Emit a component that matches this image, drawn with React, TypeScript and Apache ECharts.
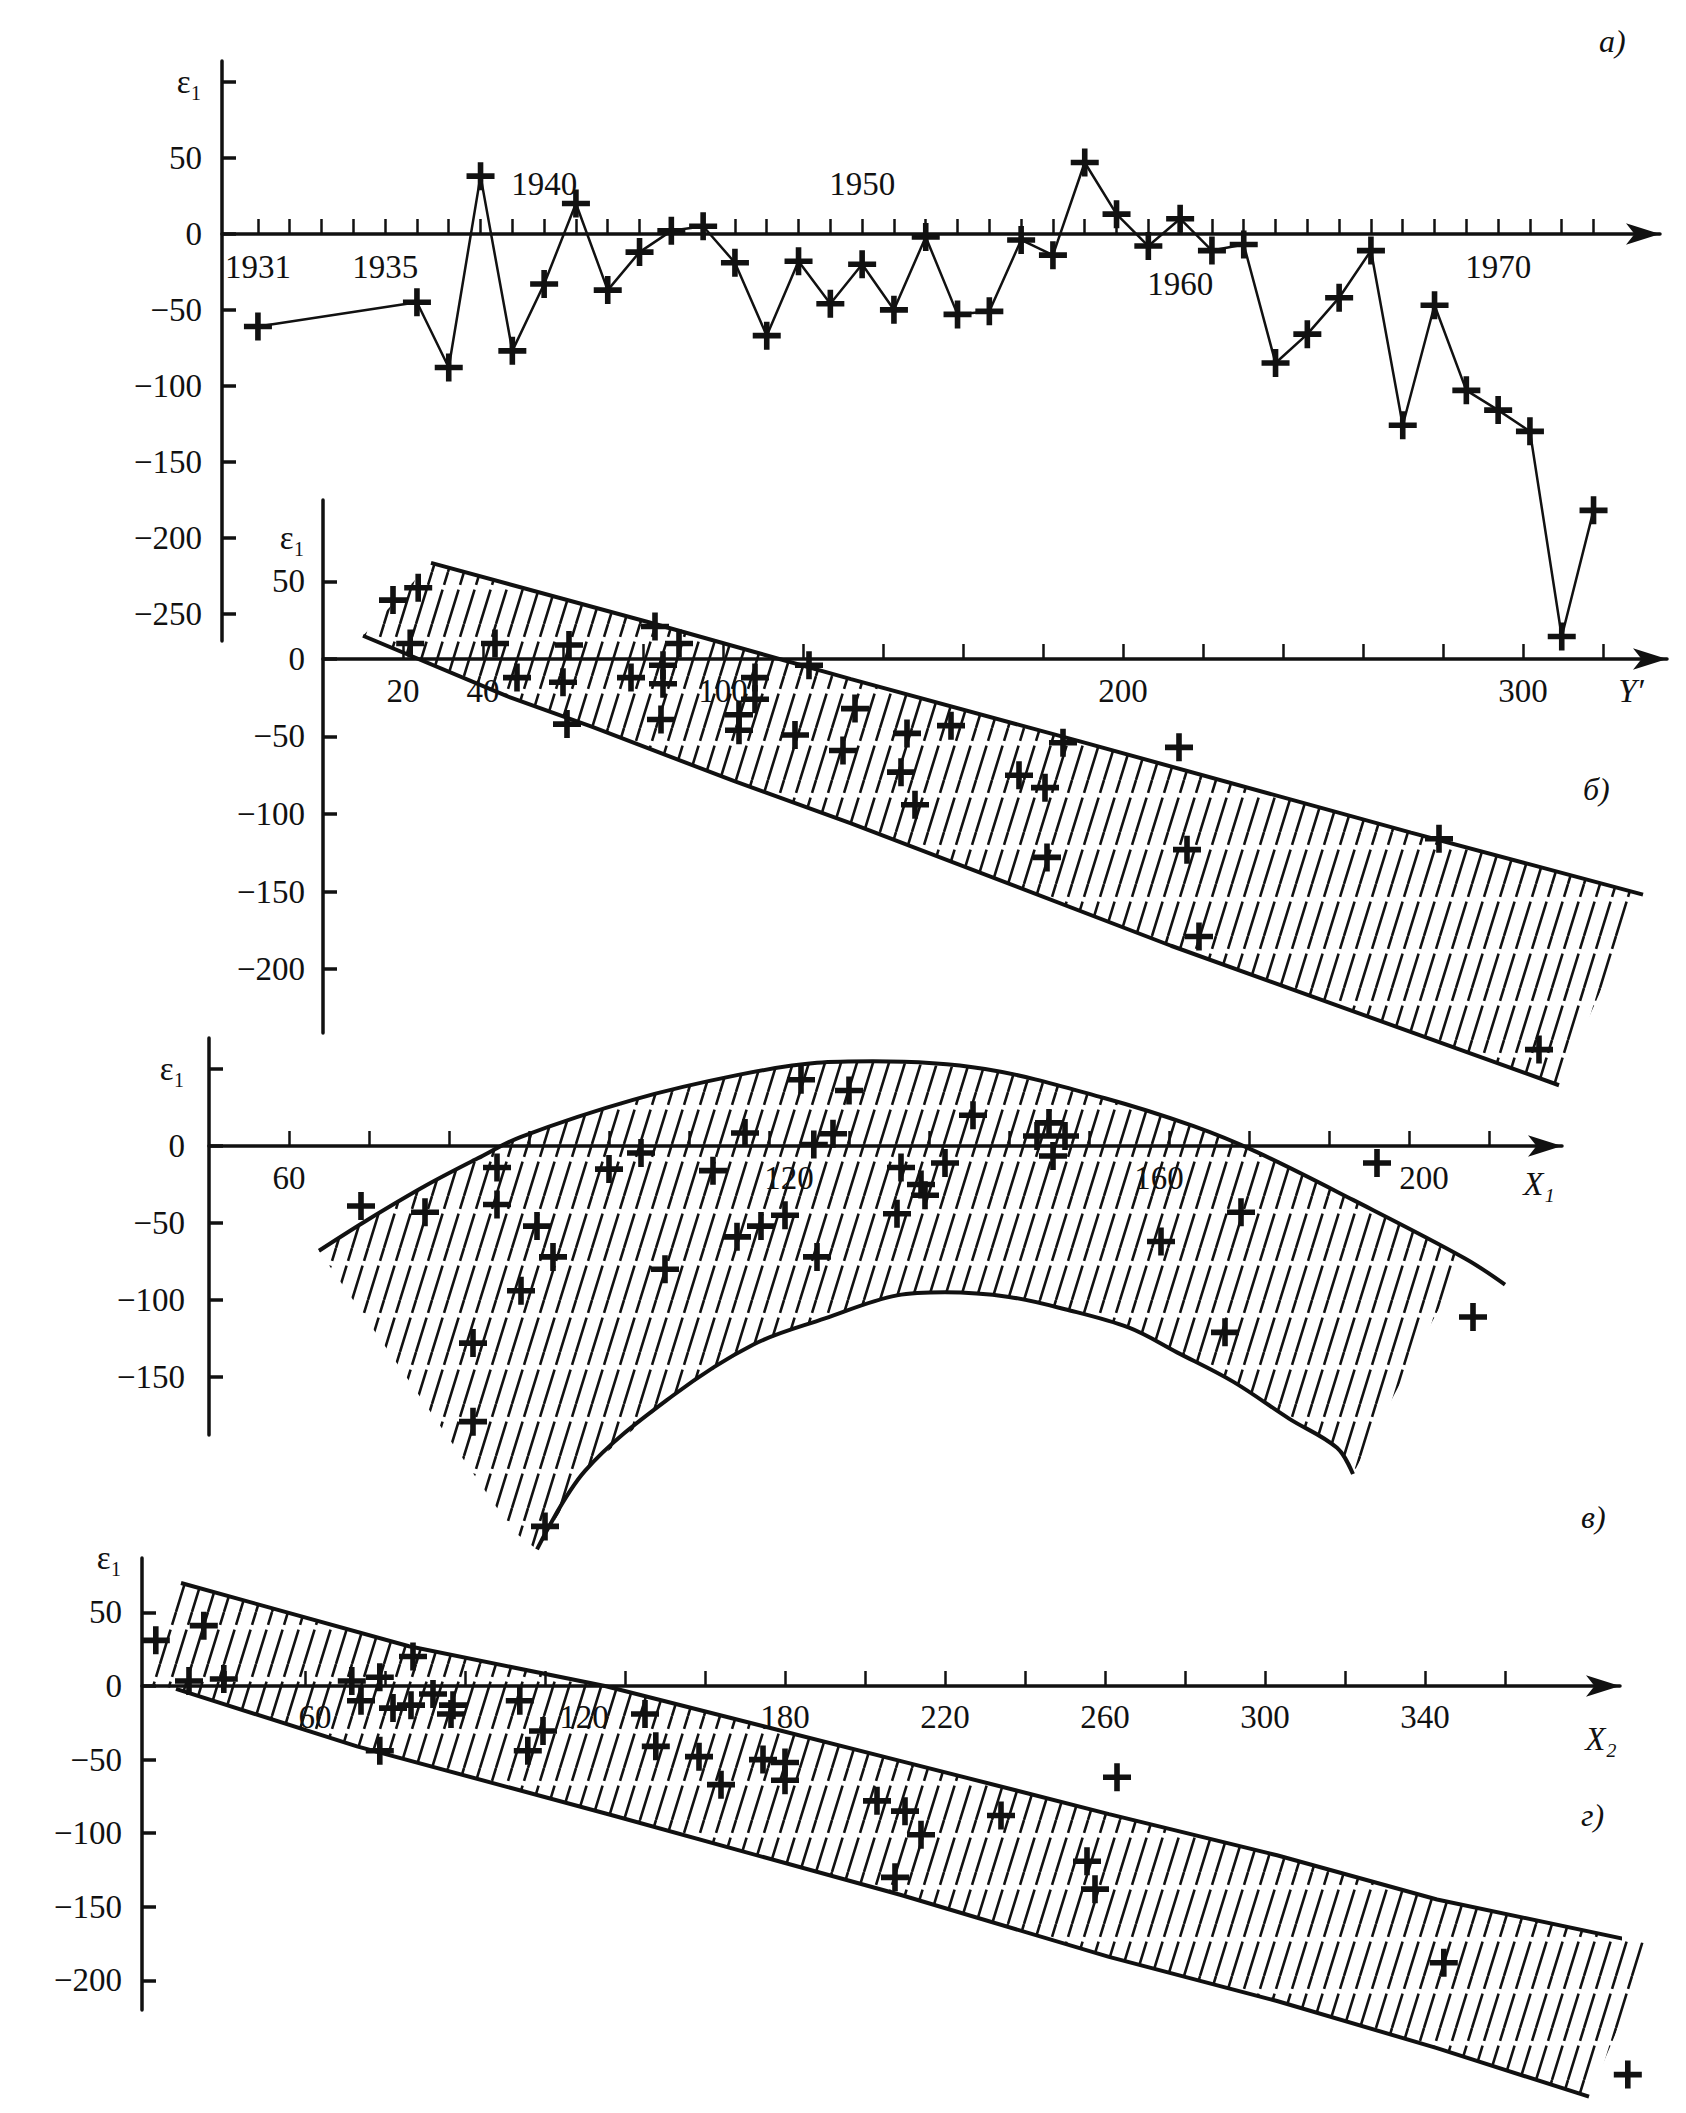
import React, { useEffect, useRef } from 'react';
import * as echarts from 'echarts';

const FONT = '"Liberation Serif", "Times New Roman", serif';
const INK = '#111111';
const CROSS = 'path://M40,0H60V40H100V60H60V100H40V60H0V40H40Z';

// ---------- Panel а : ε1 by year ----------
const yearsA = [1931, 1936, 1937, 1938, 1939, 1940, 1941, 1942, 1943, 1944, 1945, 1946, 1947, 1948, 1949, 1950,
  1951, 1952, 1953, 1954, 1955, 1956, 1957, 1958, 1959, 1960, 1961, 1962, 1963, 1964, 1965, 1966, 1967, 1968,
  1969, 1970, 1971, 1972, 1973];
const epsA = [-61, -45, -88, 38, -77, -33, 20, -37, -12, 2, 5, -19, -67, -18, -46, -20,
  -50, -2, -53, -51, -4, -14, 47, 13, -8, 10, -11, -7, -85, -66, -42, -11, -126, -47,
  -103, -116, -130, -265, -182];
const yearTicksA = [1931, 1932, 1933, 1934, 1935, 1936, 1937, 1938, 1939, 1940, 1941, 1942, 1943, 1944, 1945,
  1946, 1947, 1948, 1949, 1950, 1951, 1952, 1953, 1954, 1955, 1956, 1957, 1958, 1959, 1960, 1961, 1962, 1963,
  1964, 1965, 1966, 1967, 1968, 1969, 1970, 1971, 1972, 1973];
const yearLabelsBelowA = [1931, 1935, 1960, 1970];
const yearLabelsAboveA = [1940, 1950];
const epsTicksA = [100, 50, 0, -50, -100, -150, -200, -250];

// ---------- Panel б : ε1 vs Y' ----------
const pointsB = [[17.5, 38], [23.8, 46], [21.8, 10], [43, 10], [61.5, 9], [60, -15], [48.5, -12], [61, -42],
  [77, -12], [83, 21], [89, 10], [85, -4], [85, -16], [84.5, -39], [108, -12], [108, -26], [104, -36],
  [104, -46], [118, -49], [121.5, -4], [133, -32], [130, -59], [146, -48], [157, -43], [144.5, -73],
  [148, -94], [174, -75], [180.5, -83], [185, -54], [181, -128], [214, -57], [216, -123], [219, -179],
  [279, -116], [304, -252]];
const upperB = [[27, 62], [81, 24], [132, -13], [189, -53], [272, -112], [330, -152]];
const lowerB = [[10, 15], [46, -24], [67.5, -44], [103, -79], [132, -106], [212, -185], [309, -275]];
const hatchB = [[27, 62], [81, 24], [132, -13], [189, -53], [272, -112], [330, -152], [309, -275], [212, -185],
  [132, -106], [103, -79], [67.5, -44], [46, -24], [10, 15]];
const xTicksB = [20, 40, 60, 80, 100, 120, 140, 160, 180, 200, 220, 240, 260, 280, 300, 320];
const xLabelsB = [20, 40, 100, 200, 300];
const yTicksB = [50, 0, -50, -100, -150, -200];
const yLabelsB = [50, 0, -50, -100, -150, -200];

// ---------- Panel в : ε1 vs X1 ----------
const pointsC = [[69, -39], [77, -43], [86, -14], [86, -38], [91, -52], [93, -72], [89, -94], [83, -128],
  [83, -179], [92, -247], [100, -15], [104, -4.5], [107, -80], [113, -16], [117, 8.4], [116, -59], [119, -52],
  [122, -45], [124, 43], [125.6, 1], [128, 8], [130, 36], [126, -72], [136.5, -14], [142, -11], [139, -25],
  [139.5, -32], [136, -44], [145.5, 20], [155, 15], [153.5, 6.5], [157, 6.5], [155.5, -6.5], [179, -43],
  [169, -62], [177, -121], [196, -11], [208, -111]];
const upperC = [[63.75, -68], [69.5, -49], [77, -26], [83.6, -8], [89, 6], [103, 30], [116, 46], [126, 54],
  [133, 55], [147, 50], [162, 31], [173, 13], [181, -4], [193, -35], [207, -73], [212, -90]];
const lowerC = [[91, -262], [97, -211], [108, -162], [118, -129], [127, -112], [136, -97], [142, -95], [150, -98],
  [157, -106], [165, -118], [171, -134], [178, -153], [185, -177], [191, -196], [193, -213]];
const hatchC = [[63.75, -68], [69.5, -49], [77, -26], [83.6, -8], [89, 6], [103, 30], [116, 46], [126, 54],
  [133, 55], [147, 50], [162, 31], [173, 13], [181, -4], [193, -35], [207, -73], [193, -213], [191, -196],
  [185, -177], [178, -153], [171, -134], [165, -118], [157, -106], [150, -98], [142, -95], [136, -97],
  [127, -112], [118, -129], [108, -162], [97, -211], [91, -262], [88, -250]];
const xTicksC = [60, 70, 80, 90, 100, 110, 120, 130, 140, 150, 160, 170, 180, 190, 200, 210];
const xLabelsC = [60, 120, 160, 200];
const yTicksC = [50, 0, -50, -100, -150];
const yLabelsC = [0, -50, -100, -150];

// ---------- Panel г : ε1 vs X2 ----------
const pointsD = [[22.7, 31], [34.7, 41], [31, 3.4], [39.7, 4.8], [71.7, 3.4], [78.7, 6], [87, 20], [74, -10],
  [82, -15], [86.5, -13], [92, -5.4], [97, -13], [96.5, -19], [78.7, -44], [113.7, -10], [119.5, -30.6],
  [115.7, -44], [145, -19], [147.7, -41], [158.5, -48], [164, -67], [174.5, -50], [180, -52], [180, -64],
  [203, -78], [207.5, -130], [210, -85], [214, -101], [234, -88], [263, -62], [255.5, -119], [257.5, -138],
  [344.7, -188], [390.7, -264]];
const upperD = [[29, 70], [86, 27], [135, 0], [209, -51], [261, -87], [303, -115], [343, -145], [397, -176]];
const lowerD = [[27.75, -2], [73, -41], [137, -88], [209, -142], [261, -184], [303, -214], [343, -246], [381, -279]];
const hatchD = [[29, 70], [86, 27], [135, 0], [209, -51], [261, -87], [303, -115], [343, -145], [397, -176],
  [381, -279], [343, -246], [303, -214], [261, -184], [209, -142], [137, -88], [73, -41], [27.75, -2], [20.5, 2]];
const xTicksD = [40, 60, 80, 100, 120, 140, 160, 180, 200, 220, 240, 260, 280, 300, 320, 340, 360];
const xLabelsD = [60, 120, 180, 220, 260, 300, 340];
const yTicksD = [50, 0, -50, -100, -150, -200];
const yLabelsD = [50, 0, -50, -100, -150, -200];

// ---------- styling helpers ----------
const HATCH_SVG =
  '<svg xmlns="http://www.w3.org/2000/svg" width="16" height="52">' +
  '<g stroke="#111" stroke-width="2.6" fill="none" stroke-dasharray="36 5 13.4 0">' +
  '<line x1="0" y1="52" x2="16" y2="0"/><line x1="-16" y1="52" x2="0" y2="0"/><line x1="16" y1="52" x2="32" y2="0"/>' +
  '</g></svg>';
const hatchFill = {
  image: 'data:image/svg+xml;charset=utf-8,' + encodeURIComponent(HATCH_SVG),
  repeat: 'repeat',
  imageWidth: 16,
  imageHeight: 52,
};

const numFmt = (v: number) => (v < 0 ? '\u2212' + Math.abs(v) : String(v));
const LABEL_BASE = { color: INK, fontFamily: FONT, fontSize: 33, hideOverlap: false };
const richBase = (extra: any) => {
  const r: any = {};
  Object.keys(extra).forEach((k) => {
    r[k] = { color: INK, fontFamily: FONT, fontSize: 33, ...extra[k] };
  });
  return r;
};

// hidden axes of the data grids (carry the scale only)
function hiddenX(gridIndex: number, min: number, max: number) {
  return { type: 'value', gridIndex, min, max, show: false, splitLine: { show: false } };
}
function hiddenY(gridIndex: number) {
  return { type: 'value', gridIndex, min: 0, max: 1, show: false, splitLine: { show: false } };
}

// visible x axis: drawn on a strip grid whose bottom edge is the zero line of the panel
function xAxisCfg(gridIndex: number, min: number, max: number, ticks: number[], labels: number[], formatter: any, rich: any, margin: number) {
  return {
    type: 'value', gridIndex, min, max, position: 'bottom',
    axisLine: { show: true, onZero: false, symbol: ['none', 'arrow'], symbolSize: [16, 34], lineStyle: { color: INK, width: 3.5 } },
    axisTick: { show: true, inside: true, length: 15, customValues: ticks, lineStyle: { color: INK, width: 2.5 } },
    axisLabel: { ...LABEL_BASE, show: true, customValues: labels, formatter, rich, margin },
    splitLine: { show: false },
  };
}

function yAxisCfg(gridIndex: number, min: number, max: number, ticks: number[], labels: number[], epsAt: number, margin: number) {
  return {
    type: 'value', gridIndex, min, max,
    axisLine: { show: true, onZero: false, lineStyle: { color: INK, width: 3.5 } },
    axisTick: { show: true, inside: true, length: 14, customValues: ticks, lineStyle: { color: INK, width: 3.5 } },
    axisLabel: {
      ...LABEL_BASE, show: true, customValues: [epsAt, ...labels], margin,
      formatter: (v: number) => (v === epsAt ? '\u03b5\u2081' : numFmt(v)),
    },
    splitLine: { show: false },
  };
}

function hatchSeries(axisIdx: [number, number], poly: number[][]) {
  return {
    type: 'custom', xAxisIndex: axisIdx[0], yAxisIndex: axisIdx[1], clip: false, silent: true, z: 1,
    data: poly, encode: { x: 0, y: 1 },
    renderItem: (params: any, api: any) => {
      if (params.dataIndex !== 0) return null;
      return {
        type: 'polygon',
        shape: { points: poly.map((p) => api.coord(p)) },
        style: { fill: hatchFill, stroke: null },
      };
    },
  };
}

function boundSeries(axisIdx: [number, number], pts: number[][], smooth: number) {
  return {
    type: 'line', xAxisIndex: axisIdx[0], yAxisIndex: axisIdx[1], data: pts, symbol: 'none', smooth,
    clip: false, silent: true, z: 3, lineStyle: { color: INK, width: 4 },
  };
}

function crossSeries(axisIdx: [number, number], pts: number[][]) {
  return {
    type: 'scatter', xAxisIndex: axisIdx[0], yAxisIndex: axisIdx[1], data: pts, symbol: CROSS, symbolSize: 28,
    clip: false, silent: true, z: 5, itemStyle: { color: INK, opacity: 1 },
  };
}

const titleStyle = { fontFamily: FONT, fontSize: 32, fontStyle: 'italic', fontWeight: 'normal', color: INK };
const G = { containLabel: false, outerBoundsMode: 'none' };

// panel geometry (pixels)
const GA = { left: 222, top: 61, width: 1438, height: 580 };
const GB = { left: 323, top: 500, width: 1344, height: 533 };
const GC = { left: 209, top: 1038, width: 1353, height: 397 };
const GD = { left: 142, top: 1558, width: 1478, height: 452 };
// zero-line y of each panel
const Z = [234, 659, 1146, 1686];

function buildOption() {
  const XA: [number, number] = [1929.87, 1975.09];
  const XB: [number, number] = [0, 336];
  const XC: [number, number] = [50, 219.125];
  const XD: [number, number] = [19.25, 388.75];
  return {
    animation: false,
    backgroundColor: '#ffffff',
    textStyle: { fontFamily: FONT, color: INK },
    title: [
      { text: '\u0430)', left: 1594, top: 20, textStyle: titleStyle },
      { text: '\u0431)', left: 1578, top: 768, textStyle: titleStyle },
      { text: '\u0432)', left: 1576, top: 1496, textStyle: titleStyle },
      { text: '\u0433)', left: 1576, top: 1794, textStyle: titleStyle },
    ],
    grid: [
      { ...GA, ...G }, { ...GB, ...G }, { ...GC, ...G }, { ...GD, ...G },
      { left: GA.left, width: GA.width, top: GA.top, height: Z[0] - GA.top, ...G },
      { left: GB.left, width: GB.width, top: GB.top, height: Z[1] - GB.top, ...G },
      { left: GC.left, width: GC.width, top: GC.top, height: Z[2] - GC.top, ...G },
      { left: GD.left, width: GD.width, top: GD.top, height: Z[3] - GD.top, ...G },
    ],
    xAxis: [
      hiddenX(0, XA[0], XA[1]),
      hiddenX(1, XB[0], XB[1]),
      hiddenX(2, XC[0], XC[1]),
      hiddenX(3, XD[0], XD[1]),
      xAxisCfg(4, XA[0], XA[1], yearTicksA, yearLabelsBelowA,
        (v: number) => (v === 1960 ? '{low|1960}' : String(v)), richBase({ low: { padding: [17, 0, 0, 0] } }), 16),
      {
        type: 'value', gridIndex: 4, min: XA[0], max: XA[1], position: 'bottom',
        axisLine: { show: false, onZero: false },
        axisTick: { show: false },
        axisLabel: { ...LABEL_BASE, show: true, inside: true, customValues: yearLabelsAboveA, formatter: (v: number) => String(v), margin: 34 },
        splitLine: { show: false },
      },
      xAxisCfg(5, XB[0], XB[1], xTicksB, [...xLabelsB, 327],
        (v: number) => (v > 320 ? '{i|Y\u2032}' : String(v)), richBase({ i: { fontStyle: 'italic' } }), 15),
      xAxisCfg(6, XC[0], XC[1], xTicksC, [...xLabelsC, 216.25],
        (v: number) => {
          if (v > 210) return '{i|X\u2081}';
          if (v === 120) return '{s20|120}';
          if (v === 160) return '{s70|160}';
          if (v === 200) return '{s15|200}';
          return String(v);
        },
        richBase({
          i: { fontStyle: 'italic', padding: [6, 0, 0, 0] },
          s20: { padding: [0, 0, 0, 40] },
          s70: { padding: [0, 0, 0, 140] },
          s15: { padding: [0, 0, 0, 30] },
        }), 15),
      xAxisCfg(7, XD[0], XD[1], xTicksD, [...xLabelsD, 384],
        (v: number) => {
          if (v > 370) return '{i|X\u2082}';
          if (v === 60) return '{s10|60}';
          if (v === 120) return '{s39|120}';
          return String(v);
        },
        richBase({
          i: { fontStyle: 'italic', padding: [22, 0, 0, 0] },
          s10: { padding: [0, 0, 0, 20] },
          s39: { padding: [0, 0, 0, 78] },
        }), 14),
    ],
    yAxis: [
      yAxisCfg(0, -268, 113.8, epsTicksA, epsTicksA.filter((v) => v !== 100), 100, 20),
      yAxisCfg(1, -241.29, 102.58, yTicksB, yLabelsB, 78, 18),
      yAxisCfg(2, -187.66, 70.13, yTicksC, yLabelsC, 50, 24),
      yAxisCfg(3, -220.1, 86.96, yTicksD, yLabelsD, 86.96, 20),
      hiddenY(4), hiddenY(5), hiddenY(6), hiddenY(7),
    ],
    series: [
      {
        type: 'line', xAxisIndex: 0, yAxisIndex: 0, clip: false, silent: true, z: 4,
        data: yearsA.map((y, i) => [y, epsA[i]]),
        symbol: CROSS, symbolSize: 28, showAllSymbol: true,
        lineStyle: { color: INK, width: 2.5 }, itemStyle: { color: INK },
      },
      hatchSeries([1, 1], hatchB),
      boundSeries([1, 1], upperB, 0),
      boundSeries([1, 1], lowerB, 0),
      crossSeries([1, 1], pointsB),
      hatchSeries([2, 2], hatchC),
      boundSeries([2, 2], upperC, 0.35),
      boundSeries([2, 2], lowerC, 0.35),
      crossSeries([2, 2], pointsC),
      hatchSeries([3, 3], hatchD),
      boundSeries([3, 3], upperD, 0),
      boundSeries([3, 3], lowerD, 0),
      crossSeries([3, 3], pointsD),
    ],
  };
}

export default function App() {
  const ref = useRef<HTMLDivElement>(null);
  useEffect(() => {
    if (!ref.current) return;
    const chart = echarts.init(ref.current, null, { renderer: 'svg' });
    chart.setOption(buildOption() as any);
    return () => chart.dispose();
  }, []);
  return (
    <div
      ref={ref}
      style={{ position: 'absolute', left: 0, top: 0, width: 1686, height: 2113, background: '#ffffff' }}
    />
  );
}
